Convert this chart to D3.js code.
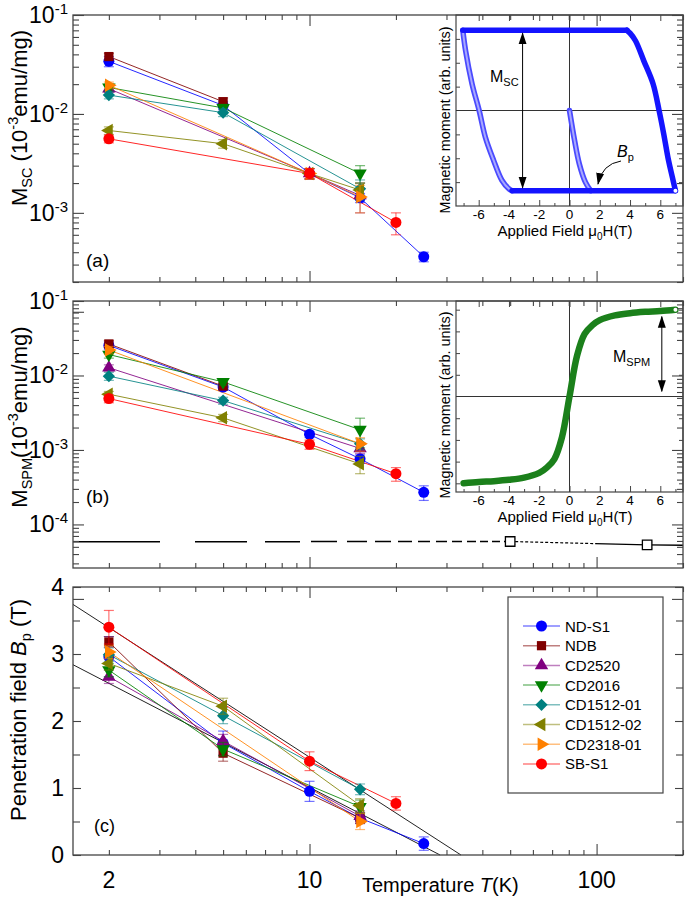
<!DOCTYPE html>
<html>
<head>
<meta charset="utf-8">
<script src="https://cdn.jsdelivr.net/npm/d3@7"></script>
<style>
  body { margin: 0; background: #fff; }
  svg { font-family: "Liberation Sans", Arial, sans-serif; }
</style>
</head>
<body>
<svg id="chart" width="685" height="900"></svg>
<script>
// ---- data ----
const sampleNames = ["ND-S1", "NDB", "CD2520", "CD2016", "CD1512-01", "CD1512-02", "CD2318-01", "SB-S1"];
const sampleColors = ["#0000ff", "#800000", "#800080", "#008000", "#008080", "#808000", "#ff8000", "#ff0000"];
const sampleShapes = ["circle", "square", "up", "down", "diamond", "left", "right", "circle"];

// [sample, T (K), M_SC, error]
const mscData = [
  [0, 2, 0.034, 0.004], [0, 5, 0.0122, 0.0012], [0, 10, 0.0025, 0.0003], [0, 15, 0.00142, 0.00015], [0, 25, 0.00036, 0.00004],
  [1, 2, 0.038, 0.003], [1, 5, 0.0133, 0.0012],
  [2, 2, 0.018, 0.0015], [2, 10, 0.0025, 0.0003], [2, 15, 0.0015, 0.0005],
  [3, 2, 0.0185, 0.0015], [3, 5, 0.0115, 0.001], [3, 15, 0.0025, 0.0005],
  [4, 2, 0.0155, 0.0013], [4, 5, 0.0103, 0.0009], [4, 15, 0.00175, 0.0004],
  [5, 2, 0.0068, 0.0006], [5, 5, 0.0050, 0.0005], [5, 10, 0.0025, 0.0003], [5, 15, 0.0017, 0.0003],
  [6, 2, 0.0195, 0.0015], [6, 10, 0.0025, 0.0003], [6, 15, 0.00145, 0.00045],
  [7, 2, 0.0056, 0.0005], [7, 10, 0.0025, 0.0003], [7, 20, 0.0008, 0.0002]
];

// [sample, T (K), M_SPM, error]
const mspmData = [
  [0, 2, 0.0253, 0.003], [0, 5, 0.0070, 0.0007], [0, 10, 0.00162, 0.00015], [0, 15, 0.00076, 0.0001], [0, 25, 0.00027, 0.00006],
  [1, 2, 0.0265, 0.003], [1, 5, 0.0072, 0.0007],
  [2, 2, 0.0127, 0.0012], [2, 15, 0.00105, 0.00015],
  [3, 2, 0.0191, 0.002], [3, 5, 0.0082, 0.0008], [3, 15, 0.00187, 0.0008],
  [4, 2, 0.0098, 0.0012], [4, 5, 0.0046, 0.0005], [4, 15, 0.00121, 0.0002],
  [5, 2, 0.0056, 0.0005], [5, 5, 0.0027, 0.0003], [5, 15, 0.00065, 0.00017],
  [6, 2, 0.0220, 0.0025], [6, 15, 0.00121, 0.00025],
  [7, 2, 0.0049, 0.0006], [7, 10, 0.00119, 0.00017], [7, 20, 0.00048, 0.0001]
];

// [sample, T (K), Bp (T), error]
const bpData = [
  [0, 2, 2.96, 0.3], [0, 5, 1.67, 0.18], [0, 10, 0.95, 0.15], [0, 15, 0.55, 0.08], [0, 25, 0.17, 0.1],
  [1, 2, 3.18, 0.08], [1, 5, 1.52, 0.12], [1, 15, 0.55, 0.08],
  [2, 2, 2.66, 0.1], [2, 5, 1.70, 0.1], [2, 15, 0.58, 0.08],
  [3, 2, 2.76, 0.1], [3, 5, 1.58, 0.1], [3, 15, 0.72, 0.1],
  [4, 2, 2.99, 0.1], [4, 5, 2.08, 0.12], [4, 15, 0.98, 0.08],
  [5, 2, 2.86, 0.1], [5, 5, 2.22, 0.12], [5, 15, 0.74, 0.1],
  [6, 2, 3.03, 0.1], [6, 15, 0.50, 0.12],
  [7, 2, 3.40, 0.25], [7, 10, 1.40, 0.14], [7, 20, 0.77, 0.1]
];

// background (empty holder) level in panel (b)
const bgLineT = [1.5, 50, 150, 200];
const bgLineM = [5.85e-5, 5.9e-5, 5.3e-5, 5.25e-5];
const bgPointT = [50, 150];
const bgPointM = [5.9e-5, 5.3e-5];
const bgPointErr = [0.5e-5, 0.5e-5];

// linear-in-log(T) fits of Bp: [T start, Bp start, T end, Bp end]
const bpFits = [[1.5, 3.74, 33.7, 0], [1.5, 2.84, 28.5, 0]];

// inset (a): hysteresis loop branches [field (T), moment]
const loopTop = [[3.8, 0.84], [-7.05, 0.84]];
const loopBottom = [[-3.8, -0.84], [7.0, -0.84]];
const loopRight = [[7.0, -0.84], [6.8, -0.7], [6.54, -0.52], [6.22, -0.24], [5.92, 0], [5.52, 0.28], [4.91, 0.52], [4.36, 0.73], [4.0, 0.81], [3.8, 0.84]];
const loopLeft = [[-7.05, 0.84], [-6.87, 0.63], [-6.44, 0.28], [-5.97, 0], [-5.56, -0.28], [-5.02, -0.52], [-4.47, -0.73], [-4.0, -0.82], [-3.8, -0.84]];
const loopVirgin = [[0, 0], [0.33, -0.31], [0.65, -0.56], [1.05, -0.75], [1.4, -0.84]];

// inset (b): superparamagnetic curve [field (T), moment]
const spmCurve = [[-7, -1.0], [-6, -0.985], [-5, -0.975], [-4, -0.96], [-3, -0.935], [-2, -0.88], [-1.5, -0.82], [-1, -0.72], [-0.5, -0.47],
  [0, 0], [0.5, 0.47], [1, 0.72], [1.5, 0.82], [2, 0.88], [3, 0.935], [4, 0.96], [5, 0.975], [6, 0.985], [7, 1.0]];

const fieldTickLabels = [-6, -4, -2, 0, 2, 4, 6];
const tempTickLabels = [2, 10, 100];
const bpTickLabels = [0, 1, 2, 3, 4];

// ---- layout ----
const svg = d3.select("#chart");
const left = 73, right = 683;
const frameColor = "#444";

const x = d3.scaleLog().domain([1.5, 200]).range([left, right]);
const yA = d3.scaleLog().domain([2e-4, 0.1]).range([282, 15]);
const yB = d3.scaleLog().domain([2.6e-5, 0.1]).range([568, 301]);
const yC = d3.scaleLinear().domain([0, 4]).range([855, 587]);

const xMajor = [10, 100];
const xMinor = [2, 3, 4, 5, 6, 7, 8, 9, 20, 30, 40, 50, 60, 70, 80, 90, 200];

function logTicks(lo, hi) {
  const major = [], minor = [];
  for (let e = lo; e <= hi; e++) {
    major.push(Math.pow(10, e));
    for (let m = 2; m <= 9; m++) minor.push(m * Math.pow(10, e));
  }
  return { major, minor };
}

const defs = svg.append("defs");
defs.append("marker").attr("id", "arrow")
  .attr("viewBox", "0 -5 12 10").attr("refX", 11).attr("refY", 0)
  .attr("markerWidth", 12).attr("markerHeight", 10).attr("markerUnits", "userSpaceOnUse")
  .attr("orient", "auto-start-reverse")
  .append("path").attr("d", "M0,-4L12,0L0,4Z").attr("fill", "#000");

const shapeRotate = { circle: 0, square: 0, up: 0, down: 180, diamond: 45, left: -90, right: 90 };
function symbolPath(shape) {
  if (shape === "circle") return d3.symbol(d3.symbolCircle, 95)();
  if (shape === "square") return d3.symbol(d3.symbolSquare, 85)();
  if (shape === "diamond") return d3.symbol(d3.symbolSquare, 75)();
  return d3.symbol(d3.symbolTriangle, 78)();
}

function drawData(rows, y) {
  const g = svg.append("g");
  const line = d3.line().x(d => x(d[1])).y(d => y(d[2]));
  sampleNames.forEach((name, i) => {
    const pts = rows.filter(r => r[0] === i).sort((a, b) => a[1] - b[1]);
    g.append("path").datum(pts)
      .attr("d", line)
      .attr("fill", "none")
      .attr("stroke", sampleColors[i])
      .attr("stroke-width", 1)
      .attr("stroke-opacity", 0.85);
  });
  sampleNames.forEach((name, i) => {
    const pts = rows.filter(r => r[0] === i);
    const eb = g.append("g").attr("stroke", sampleColors[i]).attr("stroke-opacity", 0.55).attr("stroke-width", 1.2);
    pts.forEach(d => {
      const cx = x(d[1]);
      const y0 = y(Math.max(d[2] - d[3], y.domain()[0])), y1 = y(d[2] + d[3]);
      eb.append("line").attr("x1", cx).attr("x2", cx).attr("y1", y0).attr("y2", y1);
      eb.append("line").attr("x1", cx - 5).attr("x2", cx + 5).attr("y1", y0).attr("y2", y0);
      eb.append("line").attr("x1", cx - 5).attr("x2", cx + 5).attr("y1", y1).attr("y2", y1);
    });
    g.selectAll(null).data(pts).enter().append("path")
      .attr("d", symbolPath(sampleShapes[i]))
      .attr("transform", d => `translate(${x(d[1])},${y(d[2])}) rotate(${shapeRotate[sampleShapes[i]]})`)
      .attr("fill", sampleColors[i]);
  });
}

function drawFrame(y, top, bottom, yMajor, yMinor, majLen, minLen) {
  const g = svg.append("g");
  g.append("rect").attr("x", left).attr("y", top).attr("width", right - left).attr("height", bottom - top)
    .attr("fill", "none").attr("stroke", frameColor).attr("stroke-width", 1.3);
  const addAxis = (axisFn, scale, vals, len, tx, ty) => {
    const a = g.append("g").attr("transform", `translate(${tx},${ty})`)
      .call(axisFn(scale).tickValues(vals).tickSize(-len).tickFormat(""));
    a.select(".domain").remove();
    a.selectAll("line").attr("stroke", frameColor).attr("stroke-width", 1.1);
  };
  addAxis(d3.axisBottom, x, xMajor, 11, 0, bottom);
  addAxis(d3.axisBottom, x, xMinor, 5, 0, bottom);
  addAxis(d3.axisTop, x, xMajor, 11, 0, top);
  addAxis(d3.axisTop, x, xMinor, 5, 0, top);
  addAxis(d3.axisLeft, y, yMajor, majLen, left, 0);
  addAxis(d3.axisLeft, y, yMinor, minLen, left, 0);
  addAxis(d3.axisRight, y, yMajor, majLen, right, 0);
  addAxis(d3.axisRight, y, yMinor, minLen, right, 0);
}

function decadeLabels(y, exps) {
  exps.forEach(e => {
    const t = svg.append("text").attr("x", 68).attr("y", y(Math.pow(10, e)) + 8)
      .attr("text-anchor", "end").attr("font-size", 23).attr("fill", "#000");
    t.append("tspan").text("10");
    t.append("tspan").attr("font-size", 15).attr("dy", -9).text("-" + Math.abs(e));
  });
}

function drawInset(top, bottom, yDomain, yTickVals, labelY, titleY, ylabCenter) {
  const ix = d3.scaleLinear().domain([-7.5, 7.5]).range([456, 683]);
  const iy = d3.scaleLinear().domain(yDomain).range([bottom, top]);
  const g = svg.append("g");
  g.append("rect").attr("x", 456).attr("y", top).attr("width", 683 - 456).attr("height", bottom - top)
    .attr("fill", "#fff").attr("stroke", frameColor).attr("stroke-width", 1.2);
  g.append("line").attr("x1", ix(-7.5)).attr("x2", ix(7.5)).attr("y1", iy(0)).attr("y2", iy(0)).attr("stroke", "#333");
  g.append("line").attr("x1", ix(0)).attr("x2", ix(0)).attr("y1", top).attr("y2", bottom).attr("stroke", "#333");
  const minorField = [-7, -5, -3, -1, 1, 3, 5, 7];
  const addAxis = (axisFn, scale, vals, len, tx, ty) => {
    const a = g.append("g").attr("transform", `translate(${tx},${ty})`)
      .call(axisFn(scale).tickValues(vals).tickSize(-len).tickFormat(""));
    a.select(".domain").remove();
    a.selectAll("line").attr("stroke", frameColor);
  };
  addAxis(d3.axisBottom, ix, fieldTickLabels, 6, 0, bottom);
  addAxis(d3.axisBottom, ix, minorField, 3, 0, bottom);
  addAxis(d3.axisTop, ix, fieldTickLabels, 6, 0, top);
  addAxis(d3.axisLeft, iy, yTickVals, 4, 456, 0);
  addAxis(d3.axisRight, iy, yTickVals, 4, 683, 0);
  g.selectAll(null).data(fieldTickLabels).enter().append("text")
    .attr("x", d => ix(d)).attr("y", labelY).attr("text-anchor", "middle")
    .attr("font-size", 13.5).text(d => String(d));
  const t = g.append("text").attr("x", 565).attr("y", titleY).attr("text-anchor", "middle").attr("font-size", 15);
  t.append("tspan").text("Applied Field  \u03bc");
  t.append("tspan").attr("font-size", 10).attr("dy", 4).text("0");
  t.append("tspan").attr("dy", -4).text("H(T)");
  g.append("text").attr("transform", `translate(450,${ylabCenter}) rotate(-90)`)
    .attr("text-anchor", "middle").attr("font-size", 14.4).text("Magnetic moment (arb. units)");
  return { ix, iy, g };
}

// ---- panel (a) ----
const ticksA = logTicks(-4, -2);
drawData(mscData, yA);
const insetA = drawInset(15, 206, [-1, 1], [-0.75, -0.5, -0.25, 0.25, 0.5, 0.75], 219, 236, 120);
{
  const { ix, iy, g } = insetA;
  const ln = d3.line().x(d => ix(d[0])).y(d => iy(d[1])).curve(d3.curveCatmullRom);
  [loopLeft, loopVirgin].forEach(seg => {
    g.append("path").datum(seg).attr("d", ln).attr("fill", "none").attr("stroke", "#4a4aff").attr("stroke-width", 5.5).attr("stroke-linecap", "round");
    g.append("path").datum(seg).attr("d", ln).attr("fill", "none").attr("stroke", "#a8a8ff").attr("stroke-width", 2);
  });
  [loopTop, loopRight, loopBottom].forEach(seg => {
    g.append("path").datum(seg).attr("d", ln).attr("fill", "none").attr("stroke", "#1414ff").attr("stroke-width", 5.5).attr("stroke-linecap", "round");
  });
  g.append("circle").attr("cx", ix(7.0)).attr("cy", iy(-0.84)).attr("r", 2).attr("fill", "#fff");
  g.append("line").attr("x1", ix(-3.1)).attr("x2", ix(-3.1)).attr("y1", iy(0.81)).attr("y2", iy(-0.81))
    .attr("stroke", "#000").attr("stroke-width", 1).attr("marker-start", "url(#arrow)").attr("marker-end", "url(#arrow)");
  const m = g.append("text").attr("x", 490).attr("y", 82).attr("font-size", 16);
  m.append("tspan").text("M");
  m.append("tspan").attr("font-size", 11).attr("dy", 4).text("SC");
  const b = g.append("text").attr("x", 617).attr("y", 157).attr("font-size", 16);
  b.append("tspan").attr("font-style", "italic").text("B");
  b.append("tspan").attr("font-size", 11).attr("dy", 4).text("p");
  g.append("path").attr("d", "M621,161 Q602,164 598,184").attr("fill", "none")
    .attr("stroke", "#000").attr("stroke-width", 1).attr("marker-end", "url(#arrow)");
}
drawFrame(yA, 15, 282, ticksA.major.concat([0.1]), ticksA.minor.filter(v => v >= 2e-4), 11, 6);
decadeLabels(yA, [-1, -2, -3]);

// ---- panel (b) ----
const ticksB = logTicks(-5, -2);
{
  const g = svg.append("g");
  const pts = bgLineT.map((t, i) => [t, bgLineM[i]]);
  const ln = d3.line().x(d => x(d[0])).y(d => yB(d[1]));
  g.append("path").datum(pts.slice(0, 2)).attr("d", ln).attr("fill", "none").attr("stroke", "#000").attr("stroke-width", 1.5)
    .attr("stroke-dasharray", "87,35,52,18,35,11,26,10,20,8,16,7,14,6,12,6,11,5,10,5,9,4,8,4,8,4,7,4,7,4,6,3,6,3,6,3,6,3");
  g.append("path").datum(pts.slice(1, 3)).attr("d", ln).attr("fill", "none").attr("stroke", "#000").attr("stroke-width", 1.2)
    .attr("stroke-dasharray", "3,2,3,2,3,2,3,2,3,2,3,2,3,2,3,2,3,2,3,2,3,2,3,2,3,2,3,2,3,2,3,2,3,2,300");
  g.append("path").datum(pts.slice(2, 4)).attr("d", ln).attr("fill", "none").attr("stroke", "#000").attr("stroke-width", 1.3);
  bgPointT.forEach((t, i) => {
    const cx = x(t), y0 = yB(bgPointM[i] - bgPointErr[i]), y1 = yB(bgPointM[i] + bgPointErr[i]);
    g.append("line").attr("x1", cx).attr("x2", cx).attr("y1", y0).attr("y2", y1).attr("stroke", "#000");
    [y0, y1].forEach(yy => g.append("line").attr("x1", cx - 5).attr("x2", cx + 5).attr("y1", yy).attr("y2", yy).attr("stroke", "#000"));
    g.append("path").attr("d", d3.symbol(d3.symbolSquare, 90)()).attr("transform", `translate(${cx},${yB(bgPointM[i])})`)
      .attr("fill", "#fff").attr("stroke", "#000").attr("stroke-width", 1.3);
  });
}
drawData(mspmData, yB);
const insetB = drawInset(301, 492, [-1.1, 1.1], [-1, -0.75, -0.5, -0.25, 0.25, 0.5, 0.75, 1], 505, 522, 405);
{
  const { ix, iy, g } = insetB;
  const ln = d3.line().x(d => ix(d[0])).y(d => iy(d[1])).curve(d3.curveCatmullRom);
  g.append("path").datum(spmCurve).attr("d", ln).attr("fill", "none").attr("stroke", "#1b801b")
    .attr("stroke-width", 6.5).attr("stroke-linecap", "round");
  g.append("circle").attr("cx", ix(7)).attr("cy", iy(1.0)).attr("r", 2).attr("fill", "#fff");
  g.append("line").attr("x1", ix(6.1)).attr("x2", ix(6.1)).attr("y1", iy(0.92)).attr("y2", iy(0.06))
    .attr("stroke", "#000").attr("stroke-width", 1).attr("marker-start", "url(#arrow)").attr("marker-end", "url(#arrow)");
  const m = g.append("text").attr("x", 613).attr("y", 362).attr("font-size", 16);
  m.append("tspan").text("M");
  m.append("tspan").attr("font-size", 11).attr("dy", 4).text("SPM");
}
drawFrame(yB, 301, 568, ticksB.major.concat([0.1]), ticksB.minor.filter(v => v >= 2.6e-5), 11, 6);
decadeLabels(yB, [-1, -2, -3, -4]);

// ---- panel (c) ----
{
  const g = svg.append("g");
  bpFits.forEach(f => {
    g.append("line").attr("x1", x(f[0])).attr("y1", yC(f[1])).attr("x2", x(f[2])).attr("y2", yC(f[3]))
      .attr("stroke", "#222").attr("stroke-width", 1);
  });
}
drawData(bpData, yC);
drawFrame(yC, 587, 855, bpTickLabels, [0.5, 1.5, 2.5, 3.5], 8, 7);
svg.selectAll(null).data(bpTickLabels).enter().append("text")
  .attr("x", 64).attr("y", d => yC(d) + 8).attr("text-anchor", "end").attr("font-size", 23).text(d => d);
svg.selectAll(null).data(tempTickLabels).enter().append("text")
  .attr("x", d => x(d)).attr("y", 888).attr("text-anchor", "middle").attr("font-size", 23).text(d => d);
{
  const t = svg.append("text").attr("x", 362).attr("y", 892).attr("font-size", 20);
  t.append("tspan").text("Temperature  ");
  t.append("tspan").attr("font-style", "italic").text("T");
  t.append("tspan").text("(K)");
}

// legend
{
  const g = svg.append("g");
  g.append("rect").attr("x", 508).attr("y", 597).attr("width", 155).attr("height", 196)
    .attr("fill", "#fff").attr("stroke", frameColor).attr("stroke-width", 1.2);
  sampleNames.forEach((name, i) => {
    const yy = 626 + i * 19.7;
    g.append("line").attr("x1", 523).attr("x2", 560).attr("y1", yy).attr("y2", yy)
      .attr("stroke", sampleColors[i]).attr("stroke-opacity", 0.5).attr("stroke-width", 1.5);
    g.append("path").attr("d", symbolPath(sampleShapes[i]))
      .attr("transform", `translate(541.5,${yy}) rotate(${shapeRotate[sampleShapes[i]]})`)
      .attr("fill", sampleColors[i]);
    g.append("text").attr("x", 565).attr("y", yy + 5.5).attr("font-size", 15).text(name);
  });
}

// axis titles and panel tags
{
  const a = svg.append("text").attr("transform", "translate(27,118) rotate(-90)").attr("text-anchor", "middle").attr("font-size", 22);
  a.append("tspan").text("M");
  a.append("tspan").attr("font-size", 14.5).attr("dy", 5).text("SC");
  a.append("tspan").attr("dy", -5).text(" (10");
  a.append("tspan").attr("font-size", 14.5).attr("dy", -9).text("-3");
  a.append("tspan").attr("dy", 9).text("emu/mg)");

  const b = svg.append("text").attr("transform", "translate(27,417) rotate(-90)").attr("text-anchor", "middle").attr("font-size", 22);
  b.append("tspan").text("M");
  b.append("tspan").attr("font-size", 14.5).attr("dy", 5).text("SPM");
  b.append("tspan").attr("dy", -5).text("(10");
  b.append("tspan").attr("font-size", 14.5).attr("dy", -9).text("-3");
  b.append("tspan").attr("dy", 9).text("emu/mg)");

  const c = svg.append("text").attr("transform", "translate(26,710) rotate(-90)").attr("text-anchor", "middle").attr("font-size", 22);
  c.append("tspan").text("Penetration field ");
  c.append("tspan").attr("font-style", "italic").text("B");
  c.append("tspan").attr("font-size", 14.5).attr("dy", 5).text("p");
  c.append("tspan").attr("dy", -5).text(" (T)");

  svg.append("text").attr("x", 86).attr("y", 267).attr("font-size", 19).text("(a)");
  svg.append("text").attr("x", 86).attr("y", 503).attr("font-size", 19).text("(b)");
  svg.append("text").attr("x", 94).attr("y", 832).attr("font-size", 18).text("(c)");
}
</script>
</body>
</html>
